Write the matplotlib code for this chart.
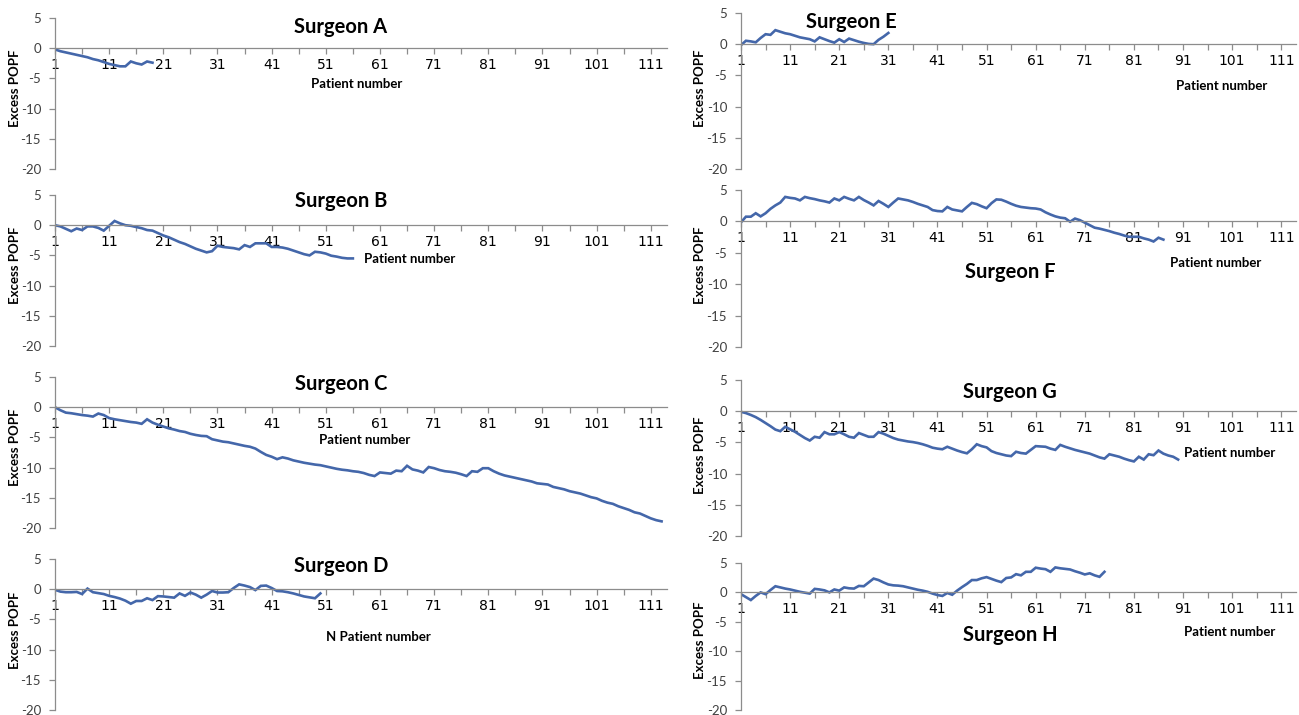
import numpy as np
import matplotlib.pyplot as plt

# cumulative excess POPF per surgeon, one value per patient (patient 1, 2, ...)
surgeon_a = [-0.2, -0.5, -0.7, -0.9, -1.1, -1.3, -1.5, -1.8, -2.0, -2.3, -2.6, -2.8, -3.0, -3.0,
             -2.2, -2.5, -2.7, -2.2, -2.4]
surgeon_b = [0.0, -0.2, -0.6, -1.0, -0.55, -0.8, -0.2, -0.2, -0.45, -0.9, -0.1, 0.7, 0.3, 0.0,
             -0.1, -0.3, -0.5, -0.8, -0.9, -1.3, -1.7, -2.0, -2.4, -2.8, -3.1, -3.5, -3.9, -4.2,
             -4.5, -4.3, -3.4, -3.6, -3.7, -3.8, -4.0, -3.3, -3.6, -3.0, -3.0, -3.0, -3.6, -3.6,
             -3.7, -3.9, -4.2, -4.5, -4.8, -5.0, -4.4, -4.5, -4.7, -5.05, -5.2, -5.4, -5.5, -5.5]
surgeon_c = [0.0, -0.5, -0.9, -1.0, -1.15, -1.3, -1.4, -1.55, -1.05, -1.3, -1.8, -2.0, -2.15,
             -2.3, -2.45, -2.55, -2.75, -2.0, -2.55, -2.9, -3.2, -3.5, -3.7, -3.95, -4.1, -4.4,
             -4.6, -4.75, -4.8, -5.3, -5.5, -5.7, -5.8, -6.0, -6.2, -6.4, -6.55, -6.85, -7.4,
             -7.9, -8.2, -8.6, -8.3, -8.5, -8.8, -9.0, -9.2, -9.35, -9.5, -9.6, -9.8, -10.0,
             -10.2, -10.35, -10.45, -10.6, -10.7, -10.9, -11.2, -11.4, -10.8, -10.9, -11.0,
             -10.5, -10.6, -9.7, -10.3, -10.5, -10.8, -9.9, -10.1, -10.4, -10.6, -10.7, -10.85,
             -11.1, -11.4, -10.6, -10.7, -10.1, -10.1, -10.6, -11.0, -11.3, -11.5, -11.7, -11.9,
             -12.1, -12.3, -12.6, -12.7, -12.8, -13.2, -13.4, -13.6, -13.9, -14.1, -14.3, -14.6,
             -14.9, -15.1, -15.5, -15.8, -16.0, -16.4, -16.7, -17.0, -17.4, -17.6, -18.0, -18.4,
             -18.7, -18.9]
surgeon_d = [-0.1, -0.4, -0.5, -0.5, -0.45, -0.8, 0.1, -0.5, -0.65, -0.8, -1.1, -1.3, -1.55,
             -1.9, -2.4, -1.95, -1.95, -1.5, -1.8, -1.15, -1.2, -1.3, -1.4, -0.7, -1.1, -0.55,
             -0.9, -1.4, -0.9, -0.3, -0.55, -0.55, -0.5, 0.2, 0.8, 0.6, 0.35, -0.15, 0.55, 0.6,
             0.2, -0.3, -0.35, -0.5, -0.7, -0.95, -1.2, -1.35, -1.5, -0.7]
surgeon_e = [-0.15, 0.55, 0.45, 0.3, 1.0, 1.6, 1.5, 2.25, 2.0, 1.75, 1.6, 1.35, 1.1, 0.95, 0.8,
             0.45, 1.1, 0.8, 0.5, 0.25, 0.8, 0.35, 0.9, 0.65, 0.4, 0.2, 0.05, 0.0, 0.7, 1.2, 1.8]
surgeon_f = [-0.15, 0.75, 0.75, 1.3, 0.8, 1.3, 2.0, 2.55, 3.0, 3.9, 3.75, 3.65, 3.35, 3.9, 3.7,
             3.55, 3.35, 3.2, 3.0, 3.65, 3.35, 3.9, 3.6, 3.35, 3.9, 3.4, 3.0, 2.55, 3.25, 2.8,
             2.3, 3.0, 3.65, 3.5, 3.35, 3.1, 2.8, 2.55, 2.3, 1.8, 1.65, 1.6, 2.3, 1.9, 1.75, 1.6,
             2.3, 2.95, 2.75, 2.4, 2.1, 2.9, 3.5, 3.45, 3.15, 2.8, 2.5, 2.3, 2.2, 2.1, 2.05, 1.9,
             1.45, 1.1, 0.8, 0.6, 0.5, -0.05, 0.45, 0.2, -0.2, -0.6, -1.0, -1.15, -1.35, -1.55,
             -1.8, -2.0, -2.25, -2.45, -2.45, -2.45, -2.7, -2.9, -3.2, -2.6, -2.9]
surgeon_g = [-0.1, -0.3, -0.6, -0.95, -1.4, -1.9, -2.4, -2.95, -3.2, -2.5, -2.9, -3.3, -3.8,
             -4.3, -4.7, -4.1, -4.25, -3.35, -3.7, -3.7, -3.35, -3.7, -4.1, -4.25, -3.5, -3.8,
             -4.1, -4.1, -3.35, -3.6, -3.95, -4.3, -4.55, -4.7, -4.85, -4.95, -5.1, -5.3, -5.55,
             -5.85, -6.0, -6.1, -5.7, -6.0, -6.3, -6.55, -6.75, -6.1, -5.3, -5.6, -5.8, -6.4,
             -6.7, -6.9, -7.1, -7.2, -6.5, -6.7, -6.8, -6.2, -5.6, -5.65, -5.7, -6.0, -6.2, -5.4,
             -5.7, -5.95, -6.2, -6.4, -6.6, -6.8, -7.1, -7.4, -7.6, -6.9, -7.1, -7.3, -7.6,
             -7.85, -8.05, -7.3, -7.75, -6.9, -7.05, -6.3, -6.8, -7.1, -7.3, -7.75]
surgeon_h = [-0.3, -0.8, -1.3, -0.6, 0.0, -0.3, 0.4, 1.05, 0.85, 0.65, 0.5, 0.3, 0.1, -0.05,
             -0.2, 0.6, 0.5, 0.35, 0.0, 0.5, 0.3, 0.85, 0.7, 0.65, 1.1, 1.05, 1.7, 2.35, 2.1, 1.7,
             1.35, 1.2, 1.15, 1.05, 0.85, 0.65, 0.45, 0.3, 0.1, -0.2, -0.45, -0.6, -0.1, -0.4,
             0.3, 0.9, 1.45, 2.1, 2.1, 2.4, 2.6, 2.3, 2.0, 1.75, 2.45, 2.55, 3.1, 2.9, 3.5, 3.5,
             4.2, 4.05, 3.95, 3.5, 4.25, 4.1, 4.0, 3.9, 3.6, 3.35, 3.05, 3.25, 2.9, 2.65, 3.5]

y_ticks = [5, 0, -5, -10, -15, -20]
x_labels = list(range(1, 112, 10))

W, H = 1299, 715
LINE = '#4467aa'
GREY = '#8c8c8c'
TXT = '#404040'


def px_box(x0, x1, ytop, ybot):
    return [x0 / W, 1 - ybot / H, (x1 - x0) / W, (ybot - ytop) / H]


def fig_text(fig, x, y, s, **kw):
    fig.text(x / W, 1 - y / H, s, ha='center', va='center', **kw)


def panel(fig, box, values):
    ax = fig.add_axes(box)
    x = np.arange(1, len(values) + 1)
    ax.plot(x, values, color=LINE, lw=1.9, solid_joinstyle='miter')
    ax.set_xlim(1, 114)
    ax.set_ylim(-20, 5)
    ax.set_yticks(y_ticks)
    ax.set_yticklabels([str(v) for v in y_ticks], fontsize=9.5, color=TXT, family='Lato')
    ticks = np.arange(1, 114, 5)
    ax.set_xticks(ticks)
    ax.set_xticklabels([str(v) if v in x_labels else '' for v in ticks],
                       fontsize=10, color=TXT, family='Liberation Serif')
    ax.spines['top'].set_visible(False)
    ax.spines['right'].set_visible(False)
    ax.spines['bottom'].set_position(('data', 0))
    for s in ('left', 'bottom'):
        ax.spines[s].set_color(GREY)
        ax.spines[s].set_linewidth(0.9)
    ax.tick_params(axis='both', direction='out', length=4, width=0.9, color=GREY)
    ax.tick_params(axis='x', pad=3)
    ax.tick_params(axis='y', pad=6)
    ax.patch.set_alpha(0)
    return ax


fig = plt.figure(figsize=(W / 100, H / 100), dpi=100)

lx0, lx1 = 55, 667
rx0, rx1 = 741, 1296

panels = [
    (surgeon_a, px_box(lx0, lx1, 18, 169), 'Surgeon A', (341, 27), 'Patient number', (357, 84), (15, 88)),
    (surgeon_b, px_box(lx0, lx1, 195, 346), 'Surgeon B', (341, 201), 'Patient number', (410, 259), (15, 265)),
    (surgeon_c, px_box(lx0, lx1, 377, 528), 'Surgeon C', (341, 384), 'Patient number', (365, 440), (15, 447)),
    (surgeon_d, px_box(lx0, lx1, 559, 710), 'Surgeon D', (341, 566), 'N Patient number', (378, 637), (15, 630)),
    (surgeon_e, px_box(rx0, rx1, 13, 169), 'Surgeon E', (851, 22), 'Patient number', (1222, 86), (700, 88)),
    (surgeon_f, px_box(rx0, rx1, 190, 347), 'Surgeon F', (1010, 272), 'Patient number', (1216, 263), (700, 265)),
    (surgeon_g, px_box(rx0, rx1, 380, 536), 'Surgeon G', (1010, 392), 'Patient number', (1230, 453), (700, 455)),
    (surgeon_h, px_box(rx0, rx1, 563, 710), 'Surgeon H', (1010, 635), 'Patient number', (1230, 632), (700, 640)),
]

for values, box, title, tpos, xlab, xpos, ypos in panels:
    panel(fig, box, values)
    fig_text(fig, *tpos, title, fontsize=14.5, fontweight='bold', family='Lato', color='black')
    fig_text(fig, *xpos, xlab, fontsize=9.5, fontweight='bold', family='Lato', color='black')
    fig_text(fig, *ypos, 'Excess POPF', fontsize=9.5, fontweight='bold', family='Lato',
             color='black', rotation=90)

fig.savefig('out.png', dpi=100)
